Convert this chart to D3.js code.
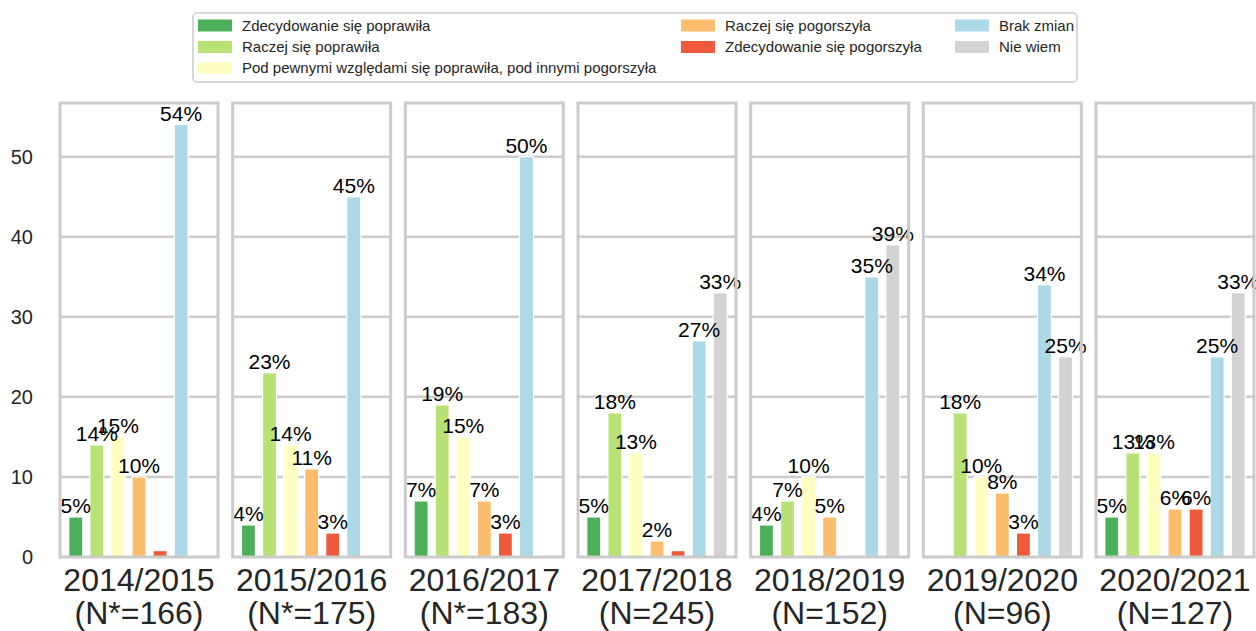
<!DOCTYPE html>
<html>
<head>
<meta charset="utf-8">
<script src="https://cdn.jsdelivr.net/npm/d3@7"></script>
<style>
  body { margin: 0; background: #fff; }
  text { font-family: "Liberation Sans", Arial, sans-serif; }
</style>
</head>
<body>
<div id="chart"></div>
<script>
// school years and sample sizes (one panel each)
var years = ["2014/2015", "2015/2016", "2016/2017", "2017/2018", "2018/2019", "2019/2020", "2020/2021"];
var sampleLabels = ["(N*=166)", "(N*=175)", "(N*=183)", "(N=245)", "(N=152)", "(N=96)", "(N=127)"];

var categories = [
  "Zdecydowanie się poprawiła",
  "Raczej się poprawiła",
  "Pod pewnymi względami się poprawiła, pod innymi pogorszyła",
  "Raczej się pogorszyła",
  "Zdecydowanie się pogorszyła",
  "Brak zmian",
  "Nie wiem"
];
var colors = ["#4caf5a", "#b8e176", "#ffffc2", "#fdbd6f", "#ee5a3b", "#add8e6", "#d3d3d3"];

// percentages per answer, one value per year
var decidedlyBetter = [5, 4, 7, 5, 4, 0, 5];
var ratherBetter    = [14, 23, 19, 18, 7, 18, 13];
var mixed           = [15, 14, 15, 13, 10, 10, 13];
var ratherWorse     = [10, 11, 7, 2, 5, 8, 6];
var decidedlyWorse  = [0.8, 3, 3, 0.8, 0, 3, 6];
var noChange        = [54, 45, 50, 27, 35, 34, 25];
var dontKnow        = [0, 0, 0, 33, 39, 25, 33];

var series = [decidedlyBetter, ratherBetter, mixed, ratherWorse, decidedlyWorse, noChange, dontKnow];
var yTicks = [0, 10, 20, 30, 40, 50];

var W = 1256, H = 631;
var svg = d3.select("#chart").append("svg")
  .attr("width", W)
  .attr("height", H);

var panelX = d3.scaleBand()
  .domain(years)
  .range([60, 1254])
  .paddingInner(0.085)
  .paddingOuter(0);

var y = d3.scaleLinear()
  .domain([0, 56.7])
  .range([557, 103]);

var barX = d3.scaleBand()
  .domain(categories)
  .range([0, panelX.bandwidth()])
  .paddingInner(0.336)
  .paddingOuter(0.417);

var gridColor = "#cccccc";

years.forEach(function(year, yi) {
  var g = svg.append("g")
    .attr("transform", `translate(${panelX(year)},0)`);
  var pw = panelX.bandwidth();

  // grid lines
  g.selectAll(".grid")
    .data(yTicks.filter(t => t > 0))
    .enter().append("line")
    .attr("x1", 0)
    .attr("x2", pw)
    .attr("y1", d => y(d))
    .attr("y2", d => y(d))
    .attr("stroke", gridColor)
    .attr("stroke-width", 2.5);

  var rows = categories.map((c, ci) => ({ cat: c, color: colors[ci], value: series[ci][yi] }));

  g.selectAll(".bar")
    .data(rows.filter(d => d.value > 0))
    .enter().append("rect")
    .attr("x", d => barX(d.cat))
    .attr("y", d => y(d.value))
    .attr("width", barX.bandwidth())
    .attr("height", d => y(0) - y(d.value))
    .attr("fill", d => d.color)
    .attr("stroke", "#ffffff")
    .attr("stroke-width", 1.2);

  g.selectAll(".lbl")
    .data(rows.filter(d => d.value >= 1))
    .enter().append("text")
    .attr("x", d => barX(d.cat) + barX.bandwidth() / 2)
    .attr("y", d => y(d.value) - 4)
    .attr("text-anchor", "middle")
    .style("font-size", "21px")
    .style("fill", "#000")
    .text(d => Math.round(d.value) + "%");

  // frame
  g.append("rect")
    .attr("x", 0)
    .attr("y", y.range()[1])
    .attr("width", pw)
    .attr("height", y.range()[0] - y.range()[1])
    .attr("fill", "none")
    .attr("stroke", gridColor)
    .attr("stroke-width", 3);

  // x labels
  g.append("text")
    .attr("x", pw / 2)
    .attr("y", 591)
    .attr("text-anchor", "middle")
    .style("font-size", "32px")
    .style("fill", "#262626")
    .text(year);
  g.append("text")
    .attr("x", pw / 2)
    .attr("y", 624)
    .attr("text-anchor", "middle")
    .style("font-size", "32px")
    .style("fill", "#262626")
    .text(sampleLabels[yi]);

  if (yi === 0) {
    g.selectAll(".ytick")
      .data(yTicks)
      .enter().append("text")
      .attr("x", -27)
      .attr("y", d => y(d))
      .attr("dy", "0.35em")
      .attr("text-anchor", "end")
      .style("font-size", "20px")
      .style("fill", "#262626")
      .text(d => d);
  }
});

// legend, filled column by column (3 columns)
var legendCols = [[0, 1, 2], [3, 4], [5, 6]];
var colX = [198, 681, 955];
var rowY = [25.5, 47, 68];

svg.append("rect")
  .attr("x", 193)
  .attr("y", 13)
  .attr("width", 884)
  .attr("height", 69)
  .attr("rx", 4)
  .attr("fill", "#fff")
  .attr("stroke", "#cccccc")
  .attr("stroke-width", 1.5);

legendCols.forEach(function(col, c) {
  col.forEach(function(ci, r) {
    svg.append("rect")
      .attr("x", colX[c])
      .attr("y", rowY[r] - 6)
      .attr("width", 34)
      .attr("height", 12)
      .attr("fill", colors[ci]);
    svg.append("text")
      .attr("x", colX[c] + 44)
      .attr("y", rowY[r])
      .attr("dy", "0.35em")
      .style("font-size", "15px")
      .style("fill", "#262626")
      .text(categories[ci]);
  });
});
</script>
</body>
</html>
